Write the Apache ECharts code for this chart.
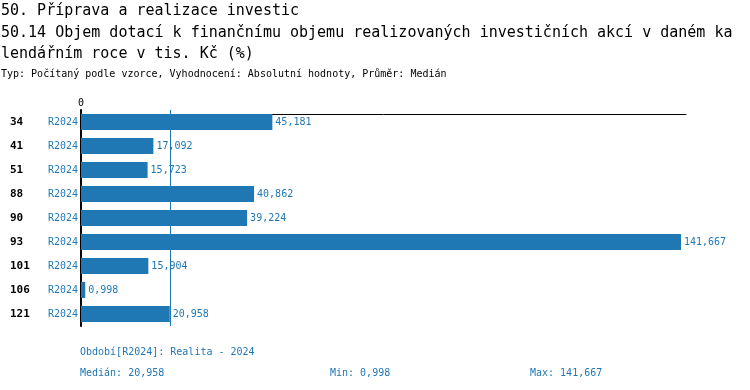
<!DOCTYPE html>
<html><head><meta charset="utf-8">
<script src="https://cdn.jsdelivr.net/npm/echarts@6/dist/echarts.min.js"></script>
<style>html,body{margin:0;padding:0;background:#fff}#c{width:750px;height:390px}</style>
</head><body><div id="c"></div>
<script>
const titleLines = ["50. Příprava a realizace investic",
  "50.14 Objem dotací k finančnímu objemu realizovaných investičních akcí v daném ka",
  "lendářním roce v tis. Kč (%)"];
const subtitle = "Typ: Počítaný podle vzorce, Vyhodnocení: Absolutní hodnoty, Průměr: Medián";
const categories = ["34","41","51","88","90","93","101","106","121"];
const period = "R2024";
const values = [45.181, 17.092, 15.723, 40.862, 39.224, 141.667, 15.904, 0.998, 20.958];
const median = 20.958, minV = 0.998, maxV = 141.667;
const footerPeriod = "Období[R2024]: Realita - 2024";

const FONT = "'DejaVu Sans Mono', monospace";
const BLUE = "#1f77b4";
const fmt = v => v.toFixed(3).replace('.', ',');

const chart = echarts.init(document.getElementById('c'), null, {renderer: 'canvas'});
chart.setOption({
  animation: false,
  textStyle: {fontFamily: FONT},
  grid: {left: 81, top: 110, width: 605, height: 216, containLabel: false},
  xAxis: {
    type: 'value', position: 'top', min: 0, max: maxV * 605 / 600, offset: -4,
    axisLine: {show: true, lineStyle: {color: '#000', width: 1}},
    axisTick: {show: false}, splitLine: {show: false},
    axisLabel: {fontFamily: FONT, fontSize: 10, color: '#000', margin: 6,
      formatter: v => v === 0 ? '0' : ''}
  },
  yAxis: {
    type: 'category', inverse: true, data: categories,
    axisLine: {show: true, lineStyle: {color: '#000', width: 2}},
    axisTick: {show: false},
    axisLabel: {margin: 3, formatter: c => '{a|' + c + '}{b|' + period + '}',
      rich: {
        a: {fontFamily: FONT, fontSize: 11, fontWeight: 'bold', color: '#000', width: 37, align: 'left'},
        b: {fontFamily: FONT, fontSize: 10, color: BLUE, width: 31, align: 'right'}
      }}
  },
  series: [{
    type: 'bar', data: values, barWidth: 16,
    itemStyle: {color: BLUE},
    label: {show: true, position: 'right', distance: 3, color: BLUE,
      fontFamily: FONT, fontSize: 10, formatter: p => fmt(p.value)},
    markLine: {silent: true, symbol: 'none', label: {show: false},
      lineStyle: {color: BLUE, type: 'solid', width: 1},
      data: [{xAxis: median}], z: 1}
  }],
  graphic: [
    {type: 'text', left: 1, top: 4, style: {text: titleLines[0], font: "15px " + FONT, fill: '#000'}},
    {type: 'text', left: 1, top: 26, style: {text: titleLines[1], font: "15px " + FONT, fill: '#000'}},
    {type: 'text', left: 1, top: 47, style: {text: titleLines[2], font: "15px " + FONT, fill: '#000'}},
    {type: 'text', left: 1, top: 69, style: {text: subtitle, font: "10px " + FONT, fill: '#000'}},
    {type: 'text', left: 80, top: 347, style: {text: footerPeriod, font: "10px " + FONT, fill: BLUE}},
    {type: 'text', left: 80, top: 368, style: {text: 'Medián: ' + fmt(median), font: "10px " + FONT, fill: BLUE}},
    {type: 'text', left: 330, top: 368, style: {text: 'Min: ' + fmt(minV), font: "10px " + FONT, fill: BLUE}},
    {type: 'text', left: 530, top: 368, style: {text: 'Max: ' + fmt(maxV), font: "10px " + FONT, fill: BLUE}}
  ]
});
</script></body></html>
